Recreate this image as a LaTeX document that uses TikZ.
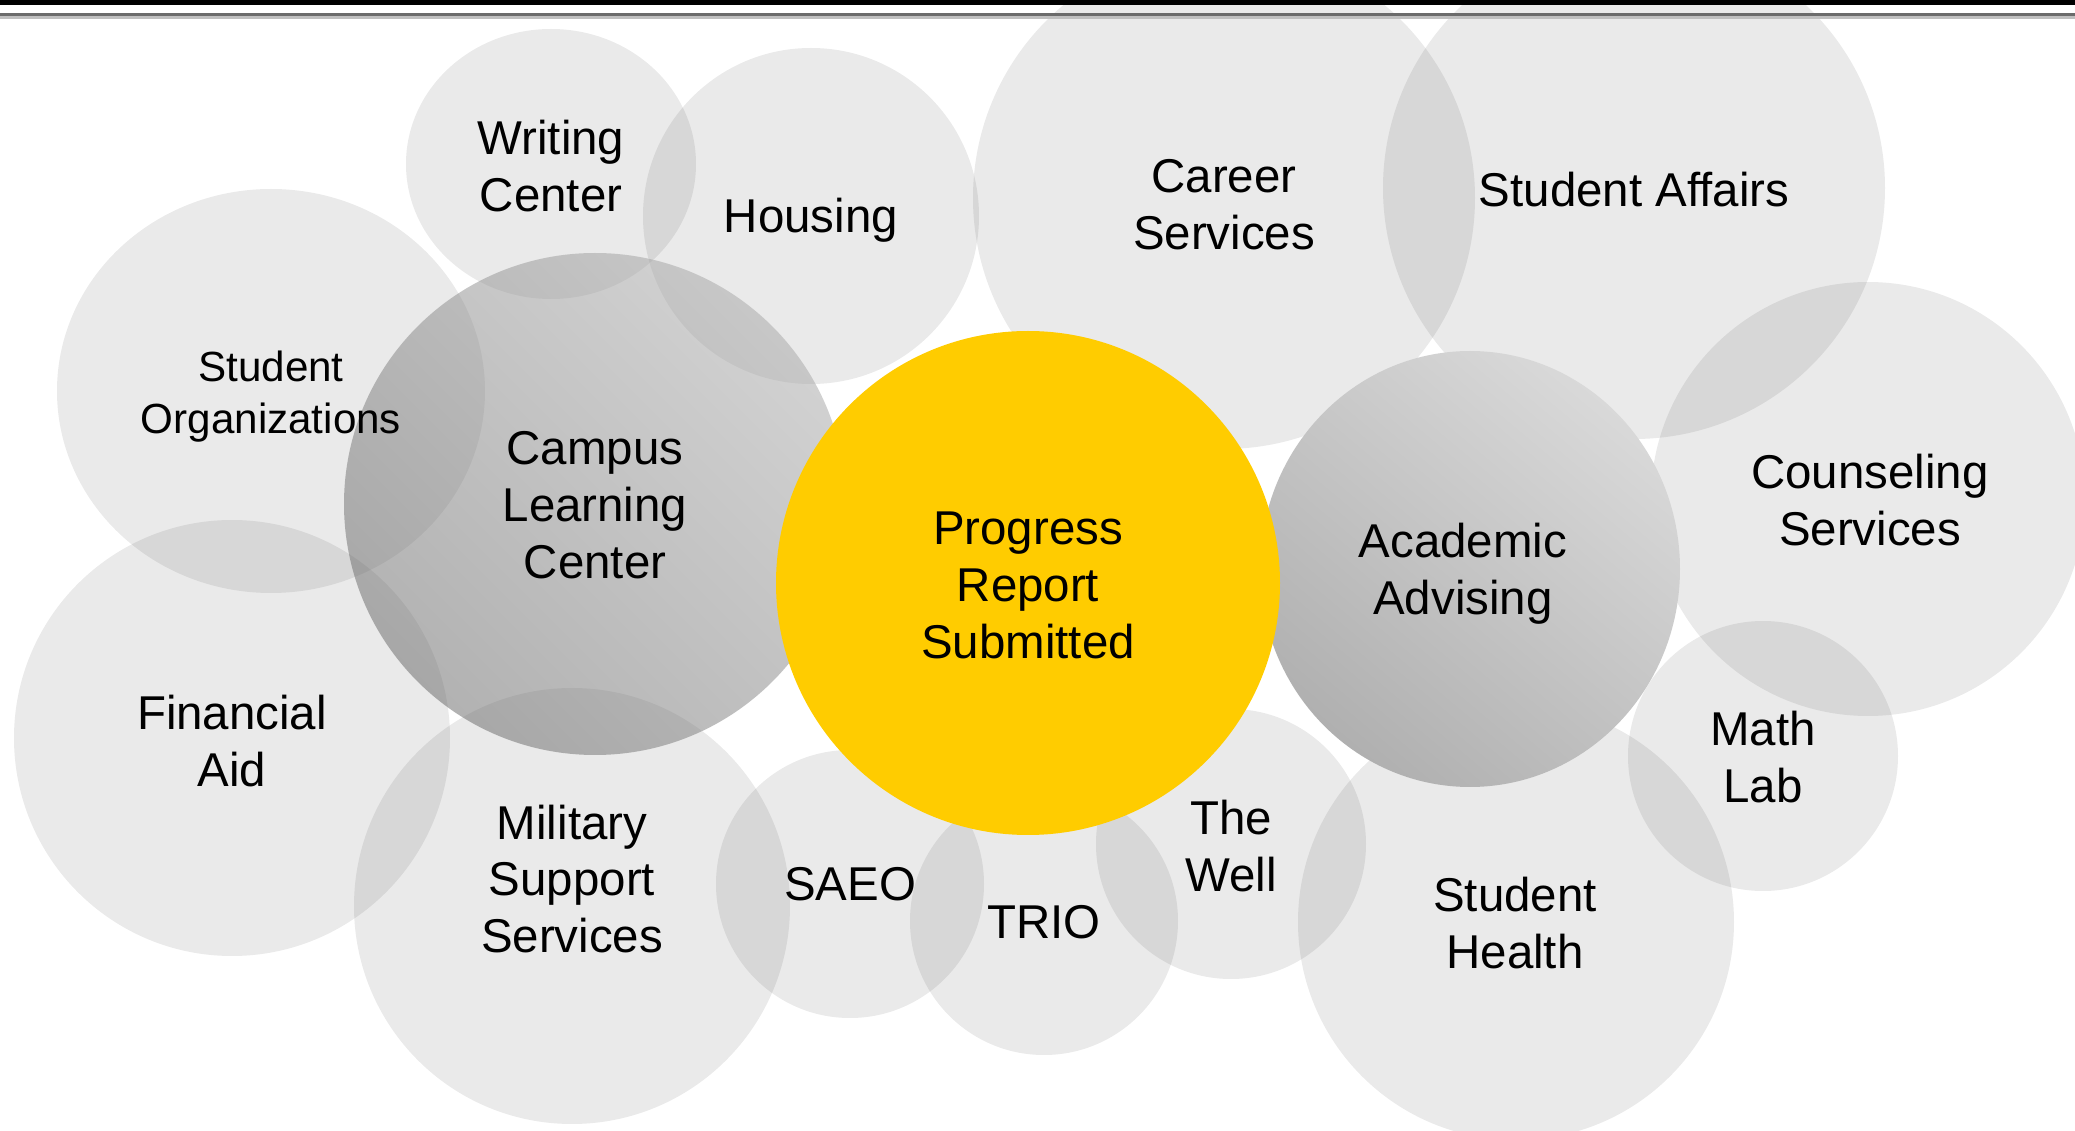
\documentclass[tikz,border=0pt]{standalone}
\usepackage{fontspec}
\setmainfont{Liberation Sans}
\usetikzlibrary{shapes.geometric}
\definecolor{mustard}{HTML}{FFCC00}

\begin{document}
\begin{tikzpicture}[x=0.1mm, y=-0.1mm,
  bubble/.style 2 args={ellipse, inner sep=0pt, outer sep=0pt, minimum width=#1, minimum height=#2, fill=black!80, fill opacity=0.1},
  hub/.style={circle, inner sep=0pt, outer sep=0pt, minimum size=#1, top color=black!35, bottom color=black!60, shading angle=-45, opacity=0.5},
  hubsolid/.style 2 args={ellipse, inner sep=0pt, outer sep=0pt, minimum width=#1, minimum height=#2, top color=black!15, bottom color=black!31, shading angle=-40},
  core/.style={circle, inner sep=0pt, outer sep=0pt, minimum size=#1, fill=mustard},
  lbl/.style={align=center, inner sep=0pt, font=\fontsize{13.5}{16.2}\selectfont},
]
\useasboundingbox (0,0) rectangle (2075,1131);
\fill[white] (0,0) rectangle (2075,1131);
\clip (0,0) rectangle (2075,1131);

% === light bubbles ===
\node[bubble={29mm}{27mm}] (wc) at (551,164) {};
\node[bubble={33.6mm}{33.6mm}] (hs) at (811,216) {};
\node[bubble={50.2mm}{50.2mm}] (cs) at (1224,198) {};
\node[bubble={50.2mm}{50.2mm}] (sa) at (1634,188) {};
\node[bubble={42.8mm}{40.4mm}] (so) at (271,391) {};
\node[bubble={43.4mm}{43.4mm}] (cns) at (1868,499) {};
\node[bubble={43.6mm}{43.6mm}] (fa) at (232,738) {};
\node[bubble={43.6mm}{43.6mm}] (mss) at (572,906) {};
\node[bubble={26.8mm}{26.8mm}] (saeo) at (850,884) {};
\node[bubble={26.8mm}{26.8mm}] (trio) at (1044,921) {};
\node[bubble={27mm}{27mm}] (well) at (1231,844) {};
\node[bubble={43.6mm}{43.6mm}] (sh) at (1516,922) {};
\node[bubble={27mm}{27mm}] (ml) at (1763,756) {};

% === shaded bubbles ===
\node[hub=50.2mm] (clc) at (595,504) {};
\node[hubsolid={42mm}{43.6mm}] (aa) at (1470,569) {};

% === centre ===
\node[core=50.4mm] (prs) at (1028,583) {};

% === labels ===
\node[lbl] (wcT) at (551,166) {Writing\\Center};
\node[lbl] (hsT) at (811,220) {Housing};
\node[lbl] (csT) at (1224,205) {Career\\Services};
\node[lbl] (saT) at (1634,190) {Student Affairs};
\node[lbl, font=\fontsize{12}{14.8}\selectfont] (soT) at (271,397) {Student\\Organizations};
\node[lbl] (clcT) at (595,505) {Campus\\Learning\\Center};
\node[lbl] (prsT) at (1028,585) {Progress\\Report\\Submitted};
\node[lbl] (aaT) at (1463,574) {Academic\\Advising};
\node[lbl] (cnsT) at (1870,500) {Counseling\\Services};
\node[lbl] (faT) at (232,741) {Financial\\Aid};
\node[lbl] (mssT) at (572,879) {Military\\Support\\Services};
\node[lbl] (saeoT) at (850,884) {SAEO};
\node[lbl] (trioT) at (1044,922) {TRIO};
\node[lbl] (wellT) at (1231,846) {The\\Well};
\node[lbl] (shT) at (1515,923) {Student\\Health};
\node[lbl] (mlT) at (1763,757) {Math\\Lab};

% === top rule ===
\fill[black] (0,0) rectangle (2075,5);
\fill[black!58] (0,13) rectangle (2075,16);
\fill[black!25] (0,16) rectangle (2075,19);
\end{tikzpicture}
\end{document}
